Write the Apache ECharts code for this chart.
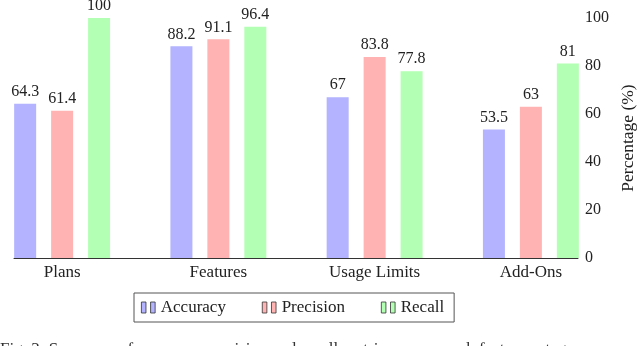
<!DOCTYPE html>
<html><head><meta charset="utf-8">
<script src="https://cdn.jsdelivr.net/npm/echarts@6/dist/echarts.min.js"></script>
<style>html,body{margin:0;padding:0;background:#fff}#c{width:640px;height:346px}</style>
</head><body><div id="c"></div>
<script>
const categories = ['Plans', 'Features', 'Usage Limits', 'Add-Ons'];
const accuracy = [64.3, 88.2, 67, 53.5];
const precision = [61.4, 91.1, 83.8, 63];
const recall = [100, 96.4, 77.8, 81];
const seriesNames = ['Accuracy', 'Precision', 'Recall'];
const yTicks = [0, 20, 40, 60, 80, 100];

const FONT = 'Liberation Serif';
const colors = ['#b3b3ff', '#ffb3b3', '#b3ffb3'];
const chart = echarts.init(document.getElementById('c'), null, {renderer: 'canvas'});
const mk = (name, data, color) => ({
  name, type: 'bar', data, xAxisIndex: 0, yAxisIndex: 0,
  barWidth: 22, barGap: '68%',
  itemStyle: {color},
  label: {show: true, position: 'top', distance: 4, color: '#222', fontFamily: FONT, fontSize: 16},
  emphasis: {disabled: true}
});
chart.setOption({
  animation: false,
  textStyle: {fontFamily: FONT},
  grid: [
    {left: -16, right: 31, top: 18, bottom: 88, outerBoundsMode: 'none', containLabel: false},
    {left: 14, right: 62, top: 18, bottom: 88, outerBoundsMode: 'none', containLabel: false}
  ],
  xAxis: [
    {type: 'category', gridIndex: 0, data: categories, axisLine: {show: false}, axisTick: {show: false},
     axisLabel: {fontFamily: FONT, fontSize: 17, color: '#222', margin: 6}},
    {type: 'value', gridIndex: 1, min: 0, max: 1, axisLine: {show: true, lineStyle: {color: '#333', width: 1}},
     axisTick: {show: false}, axisLabel: {show: false}, splitLine: {show: false}}
  ],
  yAxis: [
    {type: 'value', gridIndex: 0, min: 0, max: 100, show: false},
    {type: 'value', gridIndex: 1, position: 'right', min: 0, max: 100, interval: 20,
     axisLine: {show: false}, axisTick: {show: false}, splitLine: {show: false},
     axisLabel: {fontFamily: FONT, fontSize: 16, color: '#222', margin: 7,
       formatter: v => yTicks.includes(v) ? String(v) : ''},
     name: 'Percentage (%)', nameLocation: 'middle', nameRotate: 90, nameGap: 41,
     nameTextStyle: {fontFamily: FONT, fontSize: 17.5, color: '#222'}}
  ],
  legend: {
    data: seriesNames, left: 134, top: 293, orient: 'horizontal',
    borderColor: '#555', borderWidth: 1, padding: [6, 10, 6, 7], itemGap: 36,
    icon: 'path://M0,0H5V12H0Z M10,0H15V12H10Z', itemWidth: 15, itemHeight: 11,
    itemStyle: {borderColor: '#333', borderWidth: 0.8},
    textStyle: {fontFamily: FONT, fontSize: 17, color: '#222'},
    selectedMode: false
  },
  graphic: [{type: 'text', left: 0, top: 341,
    style: {text: 'Fig. 3: Summary of accuracy, precision and recall metrics across each feature category', font: '17px ' + FONT, fill: '#333'}}],
  series: [mk(seriesNames[0], accuracy, colors[0]), mk(seriesNames[1], precision, colors[1]), mk(seriesNames[2], recall, colors[2])]
});
</script></body></html>
